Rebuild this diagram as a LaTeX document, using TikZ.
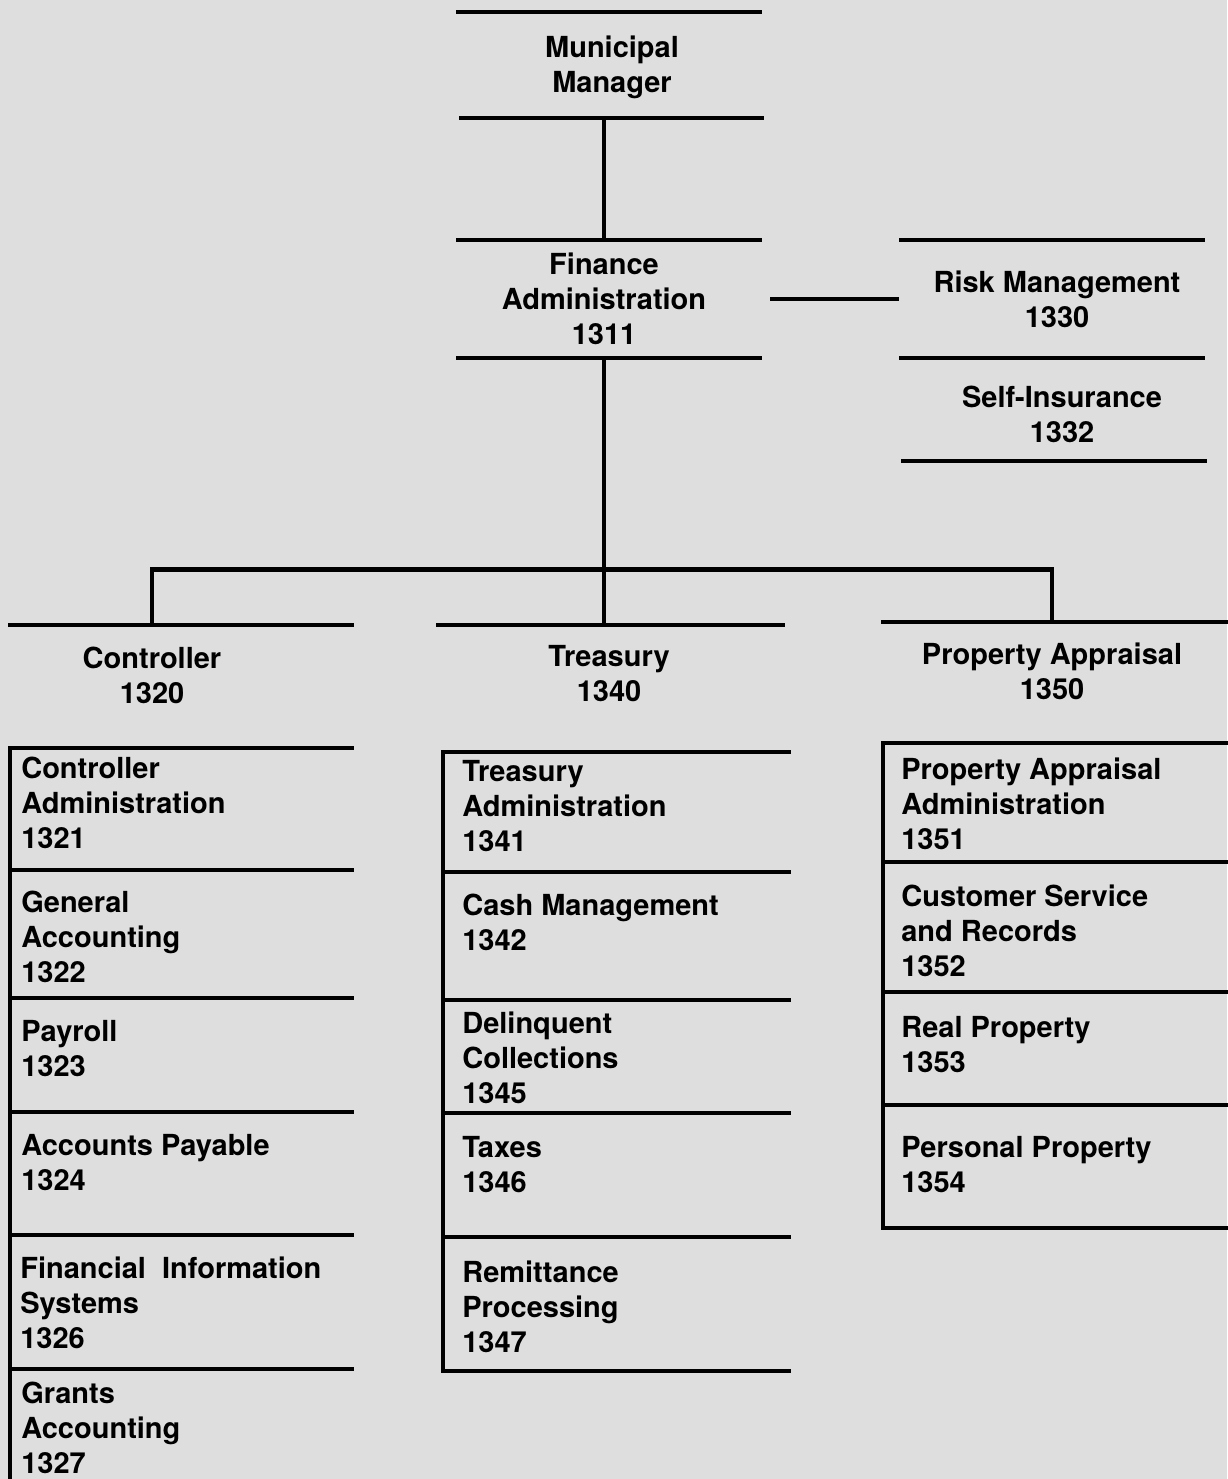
\documentclass[tikz,border=0pt]{standalone}
\usepackage{fontspec}
\setmainfont{TeX Gyre Heros}
\definecolor{scanbg}{gray}{0.87}
\tikzset{
  orgline/.style={line width=0.095cm, line cap=rect},
  headbox/.style={align=center, inner sep=0pt, minimum height=1.96cm},
  unitbox/.style={align=left, anchor=north west, inner sep=0pt},
  every node/.style={font=\fontsize{16.5}{19.9}\selectfont\bfseries},
}

\begin{document}
\begin{tikzpicture}[x=0.02cm, y=-0.02cm]
  \path[use as bounding box, fill=scanbg] (0,0) rectangle (1227,1479);

  % top of the chart
  \node[headbox, minimum height=2.12cm] (mm) at (612,67) {Municipal\\Manager};
  \node[headbox, minimum width=6.72cm, minimum height=2.36cm] (fin) at (604,299) {Finance\\Administration\\1311};
  \node[headbox, minimum width=6.4cm, minimum height=2.36cm] (risk) at (1057,299) {Risk Management\\1330};
  \node[headbox, minimum height=2.06cm] (selfins) at (1062,414) {Self-Insurance\\1332};

  \draw[orgline] (458,12) -- (760,12);
  \draw[orgline] (461,118) -- (762,118);
  \draw[orgline] (458,240) -- (760,240);
  \draw[orgline] (458,358) -- (760,358);
  \draw[orgline] (901,240) -- (1203,240);
  \draw[orgline] (901,358) -- (1203,358);
  \draw[orgline] (903,461) -- (1205,461);

  \draw[orgline] (fin.north) -- (fin.north |- mm.south);
  \draw[orgline] (fin.east) -- (risk.west);

  % divisions
  \node[headbox, minimum height=2cm] (ctl) at (152,675) {Controller\\1320};
  \node[headbox] (trs) at (609,674) {Treasury\\1340};
  \node[headbox] (prp) at (1052,671) {Property Appraisal\\1350};

  \draw[orgline] (10,625) -- (352,625);
  \draw[orgline] (438,625) -- (783,625);
  \draw[orgline] (883,622) -- (1227,622);

  \draw[orgline] (fin.south) -- (fin.south |- trs.north);
  \draw[orgline] (ctl.north) -- ++(0,-55) -| (prp.north);

  % controller units
  \draw[orgline] (10,748) -- (10,1485);
  \foreach \y in {748,870,998,1112,1235,1369}
    \draw[orgline] (10,\y) -- (352,\y);
  \node[unitbox] (ctladm) at (21,757) {Controller\\Administration\\1321};
  \node[unitbox] (genacc) at (21,891) {General\\Accounting\\1322};
  \node[unitbox] (payroll) at (21,1020) {Payroll\\1323};
  \node[unitbox] (accpay) at (21,1134) {Accounts Payable\\1324};
  \node[unitbox] (finsys) at (20,1257) {Financial\ \ Information\\Systems\\1326};
  \node[unitbox] (grants) at (21,1382) {Grants\\Accounting\\1327};

  % treasury units
  \draw[orgline] (443,752) -- (443,1371);
  \foreach \y in {752,872,1000,1113,1237,1371}
    \draw[orgline] (443,\y) -- (789,\y);
  \node[unitbox] (trsadm) at (462,760) {Treasury\\Administration\\1341};
  \node[unitbox] (cashmgt) at (462,894) {Cash Management\\1342};
  \node[unitbox] (delcol) at (462,1012) {Delinquent\\Collections\\1345};
  \node[unitbox] (taxes) at (462,1136) {Taxes\\1346};
  \node[unitbox] (remit) at (462,1261) {Remittance\\Processing\\1347};

  % property appraisal units
  \draw[orgline] (883,743) -- (883,1228);
  \foreach \y in {743,862,992,1105,1228}
    \draw[orgline] (883,\y) -- (1227,\y);
  \node[unitbox] (prpadm) at (901,758) {Property Appraisal\\Administration\\1351};
  \node[unitbox] (custsvc) at (901,885) {Customer Service\\and Records\\1352};
  \node[unitbox] (realprp) at (901,1016) {Real Property\\1353};
  \node[unitbox] (perprp) at (901,1136) {Personal Property\\1354};
\end{tikzpicture}
\end{document}
